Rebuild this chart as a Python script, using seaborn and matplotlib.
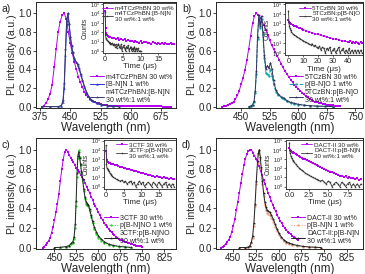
import numpy as np
import matplotlib
matplotlib.use("Agg")
import matplotlib.pyplot as plt
import seaborn as sns

# ---------------- PL spectra ----------------
# a) m4TCzPhBN
wl_a = np.arange(380, 705, 5)
pl_a_host = [0.0, 0.01, 0.04, 0.08, 0.14, 0.23, 0.42, 0.62, 0.80, 0.91, 0.98, 1.00, 0.94,
             0.80, 0.68, 0.57, 0.48, 0.40, 0.32, 0.26, 0.21, 0.16, 0.12, 0.10, 0.08, 0.06,
             0.05, 0.04, 0.035, 0.03, 0.02, 0.015, 0.015, 0.01, 0.01, 0.01, 0.01, 0.01,
             0.005, 0.005, 0.005, 0.005, 0.005, 0.005, 0.005, 0.004, 0.004, 0.004, 0.004,
             0.003, 0.003, 0.003, 0.003, 0.003, 0.002, 0.002, 0.002, 0.002, 0.002, 0.002,
             0.001, 0.001, 0.001, 0.001, 0.001]
wl_a_dop = [380, 400, 420, 428, 432, 435, 438, 441, 444, 447, 450, 453, 456, 460, 464, 468,
            472, 476, 480, 485, 490, 495, 500, 507, 515, 525, 540, 555, 570]
pl_a_dop = [0, 0, 0, 0.01, 0.05, 0.2, 0.55, 0.88, 1.0, 0.9, 0.76, 0.66, 0.58, 0.51, 0.48,
            0.45, 0.40, 0.34, 0.28, 0.21, 0.15, 0.11, 0.08, 0.055, 0.035, 0.02, 0.01, 0.005, 0]
pl_a_mix = [0, 0, 0, 0.01, 0.07, 0.25, 0.62, 0.92, 1.0, 0.88, 0.75, 0.65, 0.58, 0.52, 0.48,
            0.46, 0.41, 0.35, 0.29, 0.22, 0.16, 0.115, 0.085, 0.06, 0.04, 0.025, 0.012, 0.005, 0]

# b) 5TCzBN
wl_b = np.arange(400, 715, 5)
pl_b_host = [0.0, 0.005, 0.01, 0.02, 0.03, 0.04, 0.05, 0.08, 0.12, 0.17, 0.24, 0.31, 0.39,
             0.50, 0.62, 0.76, 0.89, 0.97, 1.00, 0.98, 0.95, 0.91, 0.87, 0.82, 0.77, 0.71,
             0.66, 0.62, 0.58, 0.54, 0.50, 0.46, 0.42, 0.38, 0.35, 0.32, 0.29, 0.26, 0.23,
             0.21, 0.19, 0.17, 0.15, 0.13, 0.11, 0.10, 0.08, 0.07, 0.06, 0.05, 0.045, 0.04,
             0.035, 0.03, 0.025, 0.02, 0.018, 0.015, 0.012, 0.01, 0.008, 0.005, 0.003]
wl_b_dop = [470, 475, 480, 484, 487, 490, 493, 496.5, 500, 503.5, 507, 511, 515, 519, 523,
            527, 531, 535, 541, 548, 557, 563, 570, 580, 590, 600, 615, 630, 650, 670, 690]
pl_b_dop = [0, 0.005, 0.02, 0.05, 0.15, 0.35, 0.72, 0.96, 0.84, 0.94, 0.78, 0.52, 0.36, 0.35,
            0.33, 0.39, 0.33, 0.24, 0.16, 0.12, 0.09, 0.08, 0.06, 0.04, 0.03, 0.02, 0.015,
            0.01, 0.005, 0.003, 0]
pl_b_mix = [0, 0.005, 0.02, 0.06, 0.17, 0.38, 0.75, 0.98, 0.86, 0.97, 0.80, 0.55, 0.40, 0.44,
            0.41, 0.47, 0.40, 0.28, 0.18, 0.13, 0.10, 0.09, 0.065, 0.045, 0.035, 0.025, 0.015,
            0.01, 0.005, 0.003, 0]

# c) 3CTF
wl_c = np.arange(410, 755, 5)
pl_c_host = [0.0, 0.01, 0.03, 0.05, 0.07, 0.10, 0.15, 0.21, 0.28, 0.36, 0.45, 0.55, 0.68,
             0.80, 0.90, 0.98, 1.00, 0.98, 0.95, 0.92, 0.90, 0.87, 0.84, 0.81, 0.79, 0.77,
             0.74, 0.72, 0.69, 0.66, 0.62, 0.59, 0.56, 0.52, 0.49, 0.45, 0.42, 0.39, 0.36,
             0.33, 0.30, 0.28, 0.25, 0.23, 0.21, 0.19, 0.17, 0.155, 0.14, 0.125, 0.11, 0.10,
             0.09, 0.08, 0.075, 0.07, 0.06, 0.055, 0.05, 0.045, 0.04, 0.035, 0.03, 0.025,
             0.02, 0.018, 0.015, 0.012, 0.01]
wl_c_dop = [450, 470, 490, 500, 508, 513, 517, 521, 524, 527, 530, 533, 536, 539, 542, 546,
            550, 554, 558, 562, 566, 570, 575, 580, 586, 593, 600, 610, 620, 635, 650, 670,
            690, 710]
pl_c_dop = [0, 0, 0.005, 0.015, 0.035, 0.05, 0.09, 0.2, 0.42, 0.72, 0.92, 1.0, 0.93, 0.84,
            0.76, 0.68, 0.58, 0.5, 0.45, 0.43, 0.42, 0.37, 0.31, 0.25, 0.19, 0.14, 0.1, 0.07,
            0.05, 0.03, 0.02, 0.01, 0.005, 0]
pl_c_mix = [0, 0.002, 0.01, 0.02, 0.045, 0.06, 0.11, 0.24, 0.48, 0.76, 0.94, 0.98, 0.92,
            0.85, 0.78, 0.7, 0.6, 0.52, 0.47, 0.45, 0.44, 0.39, 0.33, 0.27, 0.21, 0.16, 0.12,
            0.085, 0.06, 0.035, 0.022, 0.012, 0.006, 0.002]

# d) DACT-II
wl_d = np.arange(410, 670, 5)
pl_d_host = [0.0, 0.01, 0.02, 0.04, 0.06, 0.08, 0.11, 0.16, 0.22, 0.29, 0.38, 0.47, 0.56,
             0.66, 0.75, 0.84, 0.91, 0.96, 0.99, 1.00, 1.00, 0.97, 0.94, 0.91, 0.87, 0.83,
             0.78, 0.74, 0.69, 0.65, 0.60, 0.56, 0.52, 0.48, 0.44, 0.40, 0.37, 0.33, 0.30,
             0.27, 0.25, 0.22, 0.20, 0.18, 0.16, 0.15, 0.135, 0.12, 0.11, 0.10, 0.09, 0.08]
wl_d_dop = [470, 490, 500, 505, 510, 514, 518, 522, 526, 530, 533, 536, 539, 542, 546, 550,
            554, 558, 562, 566, 571, 576, 582, 588, 594, 600, 608, 616, 625, 635, 645, 660,
            680, 700, 720, 740]
pl_d_dop = [0, 0, 0.003, 0.015, 0.05, 0.1, 0.22, 0.42, 0.65, 0.86, 0.96, 1.0, 0.91, 0.8,
            0.65, 0.53, 0.44, 0.38, 0.35, 0.34, 0.33, 0.3, 0.26, 0.21, 0.17, 0.13, 0.095,
            0.07, 0.05, 0.035, 0.025, 0.015, 0.008, 0.004, 0.002, 0]
pl_d_mix = [0, 0, 0.005, 0.02, 0.06, 0.12, 0.25, 0.45, 0.68, 0.88, 0.97, 1.0, 0.93, 0.82,
            0.68, 0.56, 0.47, 0.41, 0.38, 0.37, 0.36, 0.33, 0.29, 0.24, 0.19, 0.15, 0.11,
            0.08, 0.06, 0.045, 0.035, 0.022, 0.012, 0.006, 0.003, 0]

# ---------------- transient decays ----------------
t_a_host = [0, 0.1, 0.2, 0.3, 0.5, 0.75, 1.0, 1.5, 2.0, 2.5, 3.0, 3.5, 4.0, 4.5, 5.0, 5.5,
            6.0, 6.5, 7.0, 7.5, 8.0, 8.5, 9.0, 9.5, 10.0, 10.5, 11.0, 11.5, 12.0, 12.5, 13.0,
            13.5, 14.0, 14.5, 15.0, 15.5, 16.0, 16.5, 17.0, 17.5, 18.0, 18.5, 19.0, 19.5]
c_a_host = [20000, 300, 80, 55, 45, 38, 33, 28, 25, 22, 19, 24, 16, 20, 14, 17, 12, 15, 11,
            13, 9, 12, 10, 8, 11, 7, 9, 10, 7, 8, 6, 9, 7, 5, 8, 6, 7, 5, 7, 6, 5, 7, 5, 6]
t_a_mix = [0, 0.1, 0.2, 0.3, 0.5, 0.75, 1.0, 1.25, 1.5, 1.75, 2.0, 2.25, 2.5, 2.75, 3.0,
           3.25, 3.5, 3.75, 4.0, 4.25, 4.5, 4.75, 5.0, 5.25, 5.5, 5.75, 6.0, 6.25, 6.5, 6.75,
           7.0, 7.25, 7.5, 7.75, 8.0, 8.25, 8.5, 8.75, 9.0, 9.25, 9.5, 9.75, 10.0]
c_a_mix = [15000, 60, 25, 18, 14, 11, 9, 6, 8, 5, 7, 4, 6, 3, 5, 2, 4, 6, 3, 2, 5, 1, 3, 4,
           2, 1, 3, 2, 4, 1, 2, 3, 1, 2, 1, 3, 1, 2, 1, 2, 1, 1, 1]

t_b_host = [0, 0.5, 1, 2, 3, 4, 5, 6, 7, 8, 9, 10, 12, 14, 16, 18, 20, 22, 24, 26, 28, 30,
            32, 34, 36, 38, 40, 41, 42, 43, 44, 45, 46, 47, 48, 49, 50]
c_b_host = [2500, 1500, 1200, 900, 750, 620, 520, 440, 380, 330, 290, 250, 190, 150, 120, 95,
            78, 62, 50, 42, 36, 30, 25, 22, 19, 16, 15, 12, 16, 11, 14, 10, 13, 11, 9, 12, 10]
t_b_mix = [0, 0.3, 0.6, 1, 1.5, 2, 3, 4, 5, 6, 7, 8, 9, 10, 11, 12, 13, 14, 15, 16, 17, 18,
           19, 20, 21, 22, 23, 24, 25, 26, 27, 28, 29, 30, 31, 32, 33, 34, 35, 36, 37, 38, 39,
           40, 41, 42, 43, 44, 45, 46, 47, 48, 49, 50]
c_b_mix = [20000, 1200, 600, 320, 200, 140, 90, 70, 55, 42, 35, 28, 22, 18, 15, 12, 10, 8, 7,
           9, 5, 6, 4, 3, 5, 2, 4, 3, 1, 3, 2, 4, 1, 2, 3, 1, 2, 4, 1, 2, 3, 1, 2, 1, 3, 1, 2,
           1, 2, 1, 2, 1, 2, 1]

t_c_host = [0, 0.2, 0.4, 0.7, 1, 1.5, 2, 2.5, 3, 3.5, 4, 4.5, 5, 5.5, 6, 6.5, 7, 7.5, 8, 8.5,
            9, 9.5, 10, 10.5, 11, 11.5, 12, 12.5, 13, 13.5, 14, 14.5, 15, 15.5, 16, 16.5, 17,
            17.5, 18, 18.5, 19, 19.5]
c_c_host = [8000, 700, 480, 400, 350, 300, 260, 230, 200, 175, 150, 130, 115, 100, 88, 76,
            66, 58, 52, 45, 40, 35, 32, 28, 25, 22, 20, 18, 16, 14, 12, 13, 10, 11, 9, 10, 8,
            9, 7, 8, 6, 7]
t_c_mix = [0, 0.1, 0.2, 0.4, 0.6, 0.8, 1.0, 1.25, 1.5, 1.75, 2.0, 2.5, 3.0, 3.5, 4.0, 4.5,
           5.0, 5.5, 6.0, 6.5, 7.0, 7.5, 8.0, 8.5, 9.0, 9.5, 10.0, 10.5, 11.0, 11.5, 12.0,
           12.5, 13.0, 13.5, 14.0, 14.5, 15.0, 15.5, 16.0, 16.5, 17.0, 17.5, 18.0, 18.5, 19.0,
           19.5]
c_c_mix = [30000, 300, 120, 80, 60, 45, 32, 25, 18, 14, 11, 8, 6, 5, 4, 5, 3, 4, 2, 3, 4, 2,
           3, 1, 2, 4, 2, 3, 1, 2, 3, 2, 1, 3, 2, 1, 3, 2, 1, 2, 3, 1, 2, 1, 2, 1]

t_d_host = [0, 0.1, 0.2, 0.3, 0.4, 0.5, 0.6, 0.8, 1.0, 1.2, 1.4, 1.6, 1.8, 2.0, 2.25, 2.5,
            2.75, 3.0, 3.25, 3.5, 3.75, 4.0, 4.25, 4.5, 4.75, 5.0, 5.25, 5.5, 5.75, 6.0, 6.25,
            6.5, 6.75, 7.0, 7.25, 7.5, 7.75, 8.0, 8.25, 8.5, 8.75, 9.0, 9.25]
c_d_host = [16000, 9000, 7000, 6000, 5200, 4600, 4000, 3200, 2600, 2100, 1700, 1400, 1100,
            900, 700, 540, 420, 330, 260, 200, 160, 125, 100, 80, 65, 50, 42, 35, 28, 22, 20,
            16, 14, 12, 13, 9, 10, 8, 9, 6, 8, 5, 6]
t_d_mix = [0, 0.05, 0.1, 0.2, 0.3, 0.4, 0.5, 0.6, 0.8, 1.0, 1.2, 1.4, 1.6, 1.8, 2.0, 2.25,
           2.5, 2.75, 3.0, 3.25, 3.5, 3.75, 4.0, 4.25, 4.5, 4.75, 5.0, 5.25, 5.5, 5.75, 6.0,
           6.25, 6.5, 6.75, 7.0, 7.25, 7.5, 7.75, 8.0, 8.25, 8.5, 8.75, 9.0, 9.25]
c_d_mix = [60000, 8000, 4000, 2000, 1200, 800, 600, 450, 280, 180, 120, 85, 60, 45, 32, 24,
           18, 13, 10, 8, 6, 5, 4, 5, 3, 2, 4, 3, 1, 2, 3, 2, 1, 3, 2, 1, 2, 3, 1, 2, 1, 2, 1, 2]

PURPLE = '#B400EE'

panels = [
    dict(tag='a)', pos=[36, 2, 176, 108], xlim=(365, 712), xt=[375, 450, 525, 600, 675],
         host=(wl_a, pl_a_host), dop=(wl_a_dop, pl_a_dop), mix=(wl_a_dop, pl_a_mix),
         labels=['m4TCzPhBN 30 wt%', '[B-N]N 1 wt%', 'm4TCzPhBN:[B-N]N\n30 wt%:1 wt%'],
         dop_style=dict(color='#2030E0', marker='^', linestyle='-'),
         mix_color='#3A3A70',
         inset=[0.479, 0.52, 0.521, 0.47], txlim=(-0.6, 20), txt=[0, 5, 10, 15],
         dec_host=(t_a_host, c_a_host), dec_mix=(t_a_mix, c_a_mix),
         ilabels=['m4TCzPhBN 30 wt%', 'm4TCzPhBN:[B-N]N\n30 wt%:1 wt%']),
    dict(tag='b)', pos=[216, 2, 363, 108], xlim=(384, 770), xt=[450, 525, 600, 675, 750],
         host=(wl_b, pl_b_host), dop=(wl_b_dop, pl_b_dop), mix=(wl_b_dop, pl_b_mix),
         labels=['5TCzBN 30 wt%', 'p[B-N]O 1 wt%', '5TCzBN:p[B-N]O\n30 wt%:1 wt%'],
         dop_style=dict(color='#10A8A8', marker='o', linestyle='--'),
         mix_color='#34345E',
         inset=[0.47, 0.50, 0.53, 0.49], txlim=(-2.3, 50.5), txt=[0, 10, 20, 30, 40],
         dec_host=(t_b_host, c_b_host), dec_mix=(t_b_mix, c_b_mix),
         ilabels=['5TCzBN 30 wt%', '5TCzBN:p[B-N]O\n30 wt%:1 wt%']),
    dict(tag='c)', pos=[36, 138, 176, 249], xlim=(387, 865), xt=[450, 525, 600, 675, 750, 825],
         host=(wl_c, pl_c_host), dop=(wl_c_dop, pl_c_dop), mix=(wl_c_dop, pl_c_mix),
         labels=['3CTF 30 wt%', 'p[B-N]NO 1 wt%', '3CTF:p[B-N]NO\n30 wt%:1 wt%'],
         dop_style=dict(color='#22DD22', marker='o', linestyle=':'),
         mix_color='#222222',
         inset=[0.486, 0.545, 0.514, 0.44], txlim=(-0.6, 20), txt=[0, 5, 10, 15],
         dec_host=(t_c_host, c_c_host), dec_mix=(t_c_mix, c_c_mix),
         ilabels=['3CTF 30 wt%', '3CTF:p[B-N]NO\n30 wt%:1 wt%']),
    dict(tag='d)', pos=[216, 138, 363, 249], xlim=(393, 878), xt=[450, 525, 600, 675, 750, 825],
         host=(wl_d, pl_d_host), dop=(wl_d_dop, pl_d_dop), mix=(wl_d_dop, pl_d_mix),
         labels=['DACT-II 30 wt%', 'p[B-N]N 1 wt%', 'DACT-II:p[B-N]N\n30 wt%:1 wt%'],
         dop_style=dict(color='#F4A080', marker='o', linestyle=':'),
         mix_color='#222222',
         inset=[0.476, 0.545, 0.524, 0.44], txlim=(-0.45, 9.5), txt=[0.0, 2.5, 5.0, 7.5],
         dec_host=(t_d_host, c_d_host), dec_mix=(t_d_mix, c_d_mix),
         ilabels=['DACT-II 30 wt%', 'DACT-II:p[B-N]N\n30 wt%:1 wt%']),
]

sns.set_theme(style='ticks')
plt.rcParams['font.family'] = ['Liberation Sans', 'DejaVu Sans']
plt.rcParams['axes.linewidth'] = 0.7
plt.rcParams['mathtext.default'] = 'regular'

W, H = 365, 274
fig = plt.figure(figsize=(W / 100, H / 100), dpi=100)

for p in panels:
    x0, y0, x1, y1 = p['pos']
    ax = fig.add_axes([x0 / W, 1 - y1 / H, (x1 - x0) / W, (y1 - y0) / H])

    sns.lineplot(x=p['host'][0], y=p['host'][1], ax=ax, color=PURPLE, marker='s',
                 markersize=1.8, markeredgewidth=0, linewidth=0.7, label=p['labels'][0])
    sns.lineplot(x=p['dop'][0], y=p['dop'][1], ax=ax, color=p['dop_style']['color'],
                 marker=p['dop_style']['marker'], linestyle=p['dop_style']['linestyle'],
                 markersize=1.7, markeredgewidth=0, linewidth=0.7, label=p['labels'][1])
    sns.lineplot(x=p['mix'][0], y=p['mix'][1], ax=ax, color=p['mix_color'], marker='*',
                 markersize=2.3, markeredgewidth=0, linewidth=0.7, label=p['labels'][2])

    ax.set_xlim(*p['xlim'])
    ax.set_ylim(-0.015, 1.12)
    ax.set_xticks(p['xt'])
    ax.set_yticks([0.0, 0.2, 0.4, 0.6, 0.8, 1.0])
    ax.tick_params(labelsize=7, length=2, width=0.6, pad=1)
    ax.set_xlabel('Wavelength (nm)', fontsize=8.5, labelpad=0)
    ax.set_ylabel('PL intensity (a.u.)', fontsize=7.5, labelpad=1)
    ax.legend(loc='lower right', bbox_to_anchor=(1.0, 0.0), fontsize=5.0, frameon=False,
              handlelength=2.0, labelspacing=0.1, borderpad=0.15, handletextpad=0.3,
              borderaxespad=0.4)
    fig.text((x0 - 34) / W, 1 - (y0 + 7) / H, p['tag'], fontsize=7.5, va='center', ha='left')

    ins = ax.inset_axes(p['inset'])
    ins.set_facecolor('white')
    ins.set_yscale('log')
    sns.lineplot(x=p['dec_host'][0], y=p['dec_host'][1], ax=ins, color=PURPLE, marker='s',
                 markersize=1.5, markeredgewidth=0, linewidth=0.6, label=p['ilabels'][0])
    sns.lineplot(x=p['dec_mix'][0], y=p['dec_mix'][1], ax=ins, color='#333333', marker='*',
                 markersize=1.9, markeredgewidth=0, linewidth=0.6, label=p['ilabels'][1])
    ins.set_xlim(*p['txlim'])
    ins.set_ylim(10 ** -0.2, 10 ** 5.1)
    ins.set_xticks(p['txt'])
    ins.set_yticks([1e0, 1e1, 1e2, 1e3, 1e4, 1e5])
    ins.minorticks_off()
    ins.tick_params(axis='y', labelsize=4.0, length=1.5, width=0.5, pad=0.8)
    ins.tick_params(axis='x', labelsize=5.3, length=1.5, width=0.5, pad=0.8)
    ins.set_xlabel('Time (μs)', fontsize=5.8, labelpad=0.3)
    ins.set_ylabel('Counts', fontsize=4.8, labelpad=0.5)
    for s in ins.spines.values():
        s.set_linewidth(0.6)
    ins.legend(loc='upper right', fontsize=4.5, frameon=False, handlelength=1.8,
               labelspacing=0.05, borderpad=0.2, handletextpad=0.3, borderaxespad=0.2)

fig.savefig('out.png', dpi=100)
